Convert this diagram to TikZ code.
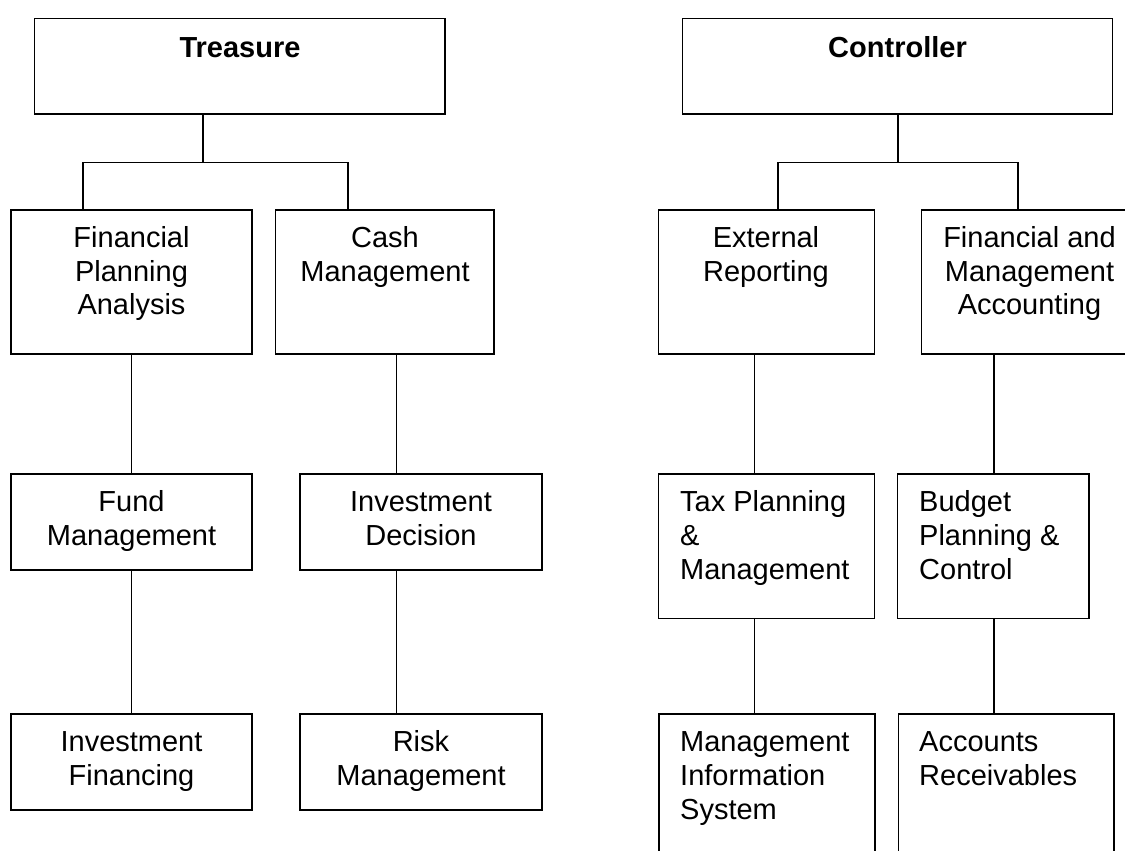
\documentclass[tikz,border=0pt]{standalone}
\usepackage{fontspec}
\setmainfont{Liberation Sans}
\begin{document}
\begin{tikzpicture}[x=1pt,y=-1pt,
  box/.style={draw=black,line width=1.3pt,rectangle,inner sep=0pt,fill=none},
  lbl/.style={inner sep=0pt,font=\fontsize{29}{33.8}\selectfont},
  clbl/.style={lbl,align=center,anchor=base},
  llbl/.style={lbl,align=left,anchor=base west},
  conn/.style={draw=black,line width=1.3pt}]
\clip (0,0) rectangle (1125,851);
\fill[white] (0,0) rectangle (1125,851);
% boxes
\node[box,minimum width=410.3pt,minimum height=95.7pt] (tre) at (239.85,66.15) {};
\node[box,minimum width=430.4pt,minimum height=95.7pt] (con) at (897.6,66.15) {};
\node[box,minimum width=241pt,minimum height=144pt] (fpa) at (131.5,282) {};
\node[box,minimum width=218.5pt,minimum height=144pt] (cash) at (384.75,282) {};
\node[box,minimum width=215.8pt,minimum height=144pt] (er) at (766.6,282) {};
\node[box,minimum width=216pt,minimum height=144pt] (fma) at (1029.5,282) {};
\node[box,minimum width=241pt,minimum height=96pt] (fund) at (131.5,522) {};
\node[box,minimum width=242pt,minimum height=96pt] (inv) at (421,522) {};
\node[box,minimum width=215.8pt,minimum height=144.3pt] (tax) at (766.6,546.15) {};
\node[box,minimum width=191.2pt,minimum height=144.3pt] (bud) at (993.4,546.15) {};
\node[box,minimum width=241pt,minimum height=96pt] (ifn) at (131.5,762) {};
\node[box,minimum width=242pt,minimum height=96pt] (risk) at (421,762) {};
\node[box,minimum width=216pt,minimum height=146pt] (mis) at (767,787) {};
\node[box,minimum width=215.5pt,minimum height=146pt] (ar) at (1006.25,787) {};
% labels (anchor = baseline of the last line)
\node[clbl,font=\fontsize{29}{33.8}\selectfont\bfseries] (treT) at (240,57.3) {Treasure};
\node[clbl,font=\fontsize{29}{33.8}\selectfont\bfseries] (conT) at (897.5,57.3) {Controller};
\node[clbl] (fpaT) at (131.5,314.9) {Financial\\Planning\\Analysis};
\node[clbl] (cashT) at (385,281.1) {Cash\\Management};
\node[clbl] (erT) at (766,281.1) {External\\Reporting};
\node[clbl] (fmaT) at (1029.5,314.9) {Financial and\\Management\\Accounting};
\node[clbl] (fundT) at (131.5,545.5) {Fund\\Management};
\node[clbl] (invT) at (421,545.5) {Investment\\Decision};
\node[llbl] (taxT) at (680,579.3) {Tax Planning\\\&\\Management};
\node[llbl] (budT) at (919,579.3) {Budget\\Planning \&\\Control};
\node[clbl] (ifT) at (131.5,785.5) {Investment\\Financing};
\node[clbl] (riskT) at (421,785.5) {Risk\\Management};
\node[llbl] (misT) at (680,819.3) {Management\\Information\\System};
\node[llbl] (arT) at (919,785.5) {Accounts\\Receivables};
% junction coordinates
\coordinate (tj) at (203,162.3);
\coordinate (tl) at (83,162.3);
\coordinate (tr) at (348,162.3);
\coordinate (cj) at (898,162.3);
\coordinate (cl) at (778,162.3);
\coordinate (cr) at (1018,162.3);
\coordinate (v1) at (131.7,0);
\coordinate (v2) at (396.6,0);
\coordinate (v3) at (754.5,0);
\coordinate (v4) at (994,0);
% connectors
\draw[conn] (tre.south -| tj) -- (tj);
\draw[conn] (fpa.north -| tl) -- (tl) -- (tr) -- (cash.north -| tr);
\draw[conn] (con.south -| cj) -- (cj);
\draw[conn] (er.north -| cl) -- (cl) -- (cr) -- (fma.north -| cr);
\draw[conn] (fpa.south -| v1) -- (fund.north -| v1);
\draw[conn] (fund.south -| v1) -- (ifn.north -| v1);
\draw[conn] (cash.south -| v2) -- (inv.north -| v2);
\draw[conn] (inv.south -| v2) -- (risk.north -| v2);
\draw[conn] (er.south -| v3) -- (tax.north -| v3);
\draw[conn] (tax.south -| v3) -- (mis.north -| v3);
\draw[conn] (fma.south -| v4) -- (bud.north -| v4);
\draw[conn] (bud.south -| v4) -- (ar.north -| v4);
\end{tikzpicture}
\end{document}
